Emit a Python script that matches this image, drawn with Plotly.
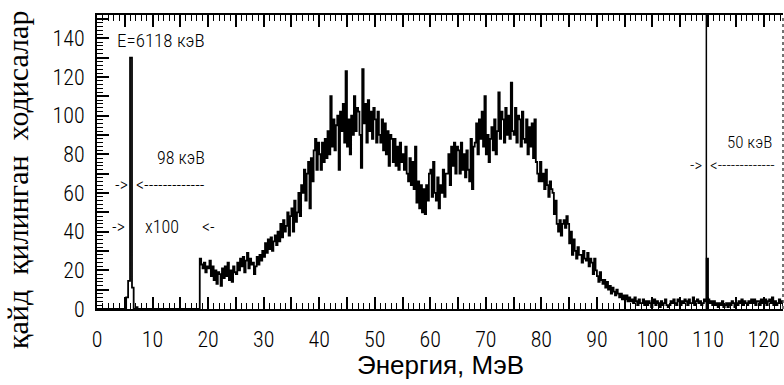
import numpy as np
import plotly.graph_objects as go

# ---------------- data ----------------
# low-energy part: 6118 keV line (step bins)
low_E = [0.0, 5.25, 5.6, 5.95, 6.3, 6.6, 7.0, 7.3]
low_counts = [0, 6, 14.5, 130, 11, 0, 1, 0]

# x100 part, 0.25 MeV bins starting at 18.5 MeV
high_start = 18.5
high_step = 0.25
r18 = [26, 23, 21, 24, 19, 22]
r20 = [21, 25, 17, 22, 15, 20, 13, 19, 18, 12, 21, 16, 22, 17, 24, 15, 20, 14, 22, 19]
r25 = [18, 24, 20, 26, 22, 27, 19, 25, 29, 21, 26, 23, 24, 18, 22, 27, 23, 28, 25, 30]
r30 = [27, 34, 29, 36, 31, 37, 30, 35, 38, 33, 40, 35, 44, 37, 46, 40, 43, 50, 38, 48]
r35 = [52, 40, 56, 45, 50, 60, 48, 64, 60, 72, 56, 70, 76, 52, 78, 66, 82, 88, 72, 86]
r40 = [80, 72, 86, 76, 88, 78, 92, 80, 110, 84, 98, 82, 95, 100, 72, 102, 92, 106, 86, 123]
r45 = [84, 98, 80, 100, 90, 110, 92, 104, 102, 90, 73, 124, 96, 106, 86, 108, 92, 102, 88, 104]
r50 = [98, 86, 102, 90, 86, 98, 82, 96, 80, 92, 74, 90, 88, 76, 88, 74, 84, 72, 86, 76]
r55 = [80, 72, 84, 70, 66, 78, 64, 76, 62, 84, 55, 66, 52, 64, 50, 62, 49, 64, 56, 70]
r60 = [72, 58, 76, 60, 56, 68, 52, 64, 60, 72, 58, 70, 70, 80, 64, 84, 74, 86, 70, 84]
r65 = [82, 70, 86, 72, 80, 68, 82, 72, 66, 88, 62, 84, 86, 96, 80, 98, 88, 102, 84, 110]
r70 = [80, 90, 76, 88, 94, 82, 98, 80, 92, 112, 88, 102, 98, 86, 104, 90, 100, 88, 117, 92]
r75 = [90, 104, 86, 100, 98, 84, 102, 88, 86, 98, 80, 94, 84, 96, 78, 98, 76, 70, 66, 76]
r80 = [66, 70, 62, 72, 64, 58, 66, 62, 60, 49, 56, 44, 40, 46, 38, 44, 46, 42, 48, 44]
r85 = [34, 40, 28, 36, 30, 26, 32, 28, 28, 24, 30, 26, 25, 29, 22, 26, 24, 18, 26, 20]
r90 = [17, 14, 19, 15, 13, 15, 11, 14, 10, 12, 8, 11, 9, 7, 10, 8, 6, 8, 5, 7]
r95 = [5, 7, 4, 6, 4, 5, 3, 6, 4, 2, 5, 3, 3, 5, 2, 4, 2, 4, 3, 1]
r100 = [3, 5, 2, 4, 3, 1, 4, 2, 3, 5, 2, 1, 2, 4, 3, 5, 3, 2, 5, 4]
r105 = [2, 4, 3, 5, 4, 2, 5, 3, 3, 6, 2, 4, 5, 3, 4, 2, 3, 5, 4, 26]
r110 = [5, 3, 4, 2, 4, 2, 3, 1, 3, 2, 4, 1, 2, 3, 1, 3, 2, 4, 3, 1]
r115 = [3, 2, 4, 3, 5, 2, 4, 3, 2, 4, 3, 5, 3, 5, 2, 4, 4, 2, 5, 3]
r120 = [3, 5, 2, 4, 5, 3, 6, 2, 4, 2, 3, 5, 3, 4, 2, 3]

high_counts = (r18 + r20 + r25 + r30 + r35 + r40 + r45 + r50 + r55 + r60 + r65
               + r70 + r75 + r80 + r85 + r90 + r95 + r100 + r105 + r110 + r115 + r120)

# thin calibration line at ~110 MeV going off the top
line_E = [109.7]
line_top = [152]

x_ticks = list(range(0, 125, 5))
x_labels = [str(v) if v % 10 == 0 else "" for v in x_ticks]
y_ticks = list(range(0, 151, 10))
y_labels = [str(v) if v % 20 == 0 else "" for v in y_ticks]

# ---------------- figure ----------------
high_E = list(high_start + high_step * np.arange(len(high_counts)))
spec_E = low_E + high_E
spec_C = low_counts + high_counts

NARROW = "Roboto Condensed Light, Roboto Condensed, Liberation Sans Narrow, Liberation Sans, sans-serif"
WIDE = "Liberation Sans, Arial, sans-serif"

fig = go.Figure()
fig.add_trace(go.Scatter(x=spec_E, y=spec_C, mode="lines", line_shape="hv",
                         line=dict(color="black", width=1.8), showlegend=False,
                         hoverinfo="skip"))
for e, t in zip(line_E, line_top):
    fig.add_trace(go.Scatter(x=[e, e], y=[0, t], mode="lines",
                             line=dict(color="black", width=1.5), showlegend=False,
                             hoverinfo="skip"))

fig.update_layout(
    width=784, height=385,
    margin=dict(l=97, r=1, t=15, b=76),
    paper_bgcolor="white", plot_bgcolor="white",
    xaxis=dict(range=[0, 123.5], showline=True, linecolor="black", linewidth=2,
               mirror="ticks", ticks="inside", tickvals=x_ticks, ticktext=x_labels,
               ticklen=12, tickwidth=1.5, tickcolor="black",
               minor=dict(dtick=1, ticklen=6, ticks="inside", tickwidth=1.2, tickcolor="black"),
               showgrid=False, zeroline=False, ticklabelstandoff=10,
               tickfont=dict(family=NARROW, size=22, color="black")),
    yaxis=dict(range=[0, 152], showline=True, linecolor="black", linewidth=2,
               ticks="inside", tickvals=y_ticks, ticktext=y_labels,
               ticklen=12, tickwidth=1.5, tickcolor="black",
               minor=dict(dtick=2, ticklen=6, ticks="inside", tickwidth=1.2, tickcolor="black"),
               showgrid=False, zeroline=False, ticklabelstandoff=6,
               tickfont=dict(family=NARROW, size=22, color="black")),
    yaxis2=dict(range=[0, 152], overlaying="y", side="right", ticks="inside",
                ticklen=5, tickwidth=1.5, tickcolor="black", dtick=10, tick0=0,
                showticklabels=False, showline=False, showgrid=False, zeroline=False),
)

fig.add_shape(type="line", xref="paper", yref="paper", x0=1, x1=1, y0=0, y1=1,
              line=dict(color="#444444", width=1.5, dash="dot"))

def txt(x, y, s, size=16, anchor="left", family=NARROW, xref="x", yref="y", angle=0):
    fig.add_annotation(x=x, y=y, xref=xref, yref=yref, text=s, showarrow=False,
                       xanchor=anchor, yanchor="middle", textangle=angle,
                       font=dict(family=family, size=size, color="black"))

txt(3.15, 139, "E=6118 кэВ", size=19)
txt(10.4, 78.5, "98 кэВ", size=18)
txt(2.8, 64.6, "->", size=18)
txt(6.75, 64.6, "<-------------", size=18)
txt(2.4, 42.4, "->", size=18)
txt(8.2, 42.4, "x100", size=18)
txt(18.5, 42.4, "<-", size=18)
txt(113.1, 86.3, "50 кэВ", size=17)
txt(106.4, 74.4, "->", size=17)
txt(110.0, 74.4, "<-------------", size=17)

txt(0.5, -0.19, "Энергия, МэВ", size=26, anchor="center", family=WIDE,
    xref="paper", yref="paper")
txt(-0.116, 0.44, "қайд\u00a0\u00a0қилинган\u00a0\u00a0ходисалар", size=30, anchor="center",
    family="Liberation Serif, Times New Roman, serif", xref="paper", yref="paper", angle=-90)

fig.write_html("out.html")
